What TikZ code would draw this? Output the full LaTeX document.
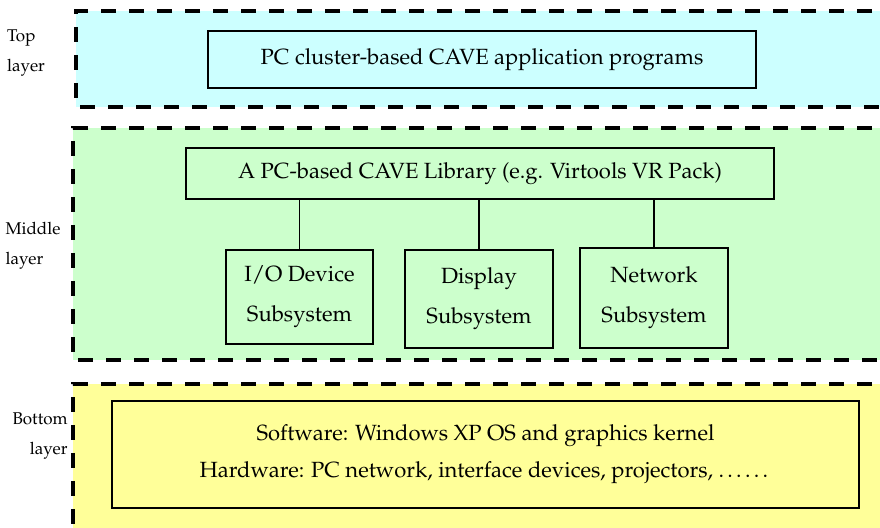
\documentclass[tikz,border=0pt]{standalone}
\usepackage[T1]{fontenc}
\usepackage{mathpazo}
\definecolor{topfill}{HTML}{CCFFFF}
\definecolor{midfill}{HTML}{CCFFCC}
\definecolor{botfill}{HTML}{FFFF99}
\begin{document}
\begin{tikzpicture}[x=0.5pt,y=-0.5pt]
\tikzstyle{layer}=[line width=2pt,dash pattern=on 7.5pt off 6.5pt]
\tikzstyle{unit}=[draw,line width=0.9pt,inner sep=0pt,align=center,font=\fontsize{11}{20}\selectfont]
\tikzstyle{tag}=[inner sep=0pt,font=\fontsize{8.5}{15}\selectfont]
\useasboundingbox (0,0) rectangle (880,528);
\clip (0,0) rectangle (880,528);
% the three layers
\fill [topfill] (76,11) rectangle (900,107);
\draw [layer] (900,11) -- (76,11) -- (76,107) -- (900,107);
\fill [midfill] (73,128) rectangle (900,360);
\draw [layer] (900,128) -- (73,128) -- (73,360) -- (900,360);
\fill [botfill] (73,384) rectangle (900,560);
\draw [layer] (900,384) -- (73,384) -- (73,560);
% layer names
\node [tag,align=left] (toptag) at (26,53) {Top\\layer};
\node [tag,align=left] (midtag) at (33,246) {Middle\\layer};
\node [tag,align=right,anchor=east] (bottag) at (68,436) {Bottom\\layer};
% boxes
\node [unit,minimum width=274pt,minimum height=28.5pt] (apps) at (482,59.5)
  {PC cluster-based CAVE application programs};
\node [unit,minimum width=294pt,minimum height=25.5pt] (lib) at (480,173.5)
  {A PC-based CAVE Library (e.g. Virtools VR Pack)};
\node [unit,minimum width=73.5pt,minimum height=47pt] (io) at (299.5,297)
  {I/O Device\\Subsystem};
\node [unit,minimum width=74pt,minimum height=49pt] (disp) at (479,299)
  {Display\\Subsystem};
\node [unit,minimum width=74pt,minimum height=50pt] (net) at (654,298)
  {Network\\Subsystem};
\node [unit,minimum width=373.5pt,minimum height=53.5pt,font=\fontsize{11}{18.5}\selectfont] (base) at (485.5,454.5)
  {Software: Windows XP OS and graphics kernel\\
   Hardware: PC network, interface devices, projectors, \ldots\ldots};
% links
\draw [line width=0.9pt] (io.north) -- (io.north |- lib.south);
\draw [line width=0.9pt] (disp.north) -- (disp.north |- lib.south);
\draw [line width=0.9pt] (net.north) -- (net.north |- lib.south);
\end{tikzpicture}
\end{document}
